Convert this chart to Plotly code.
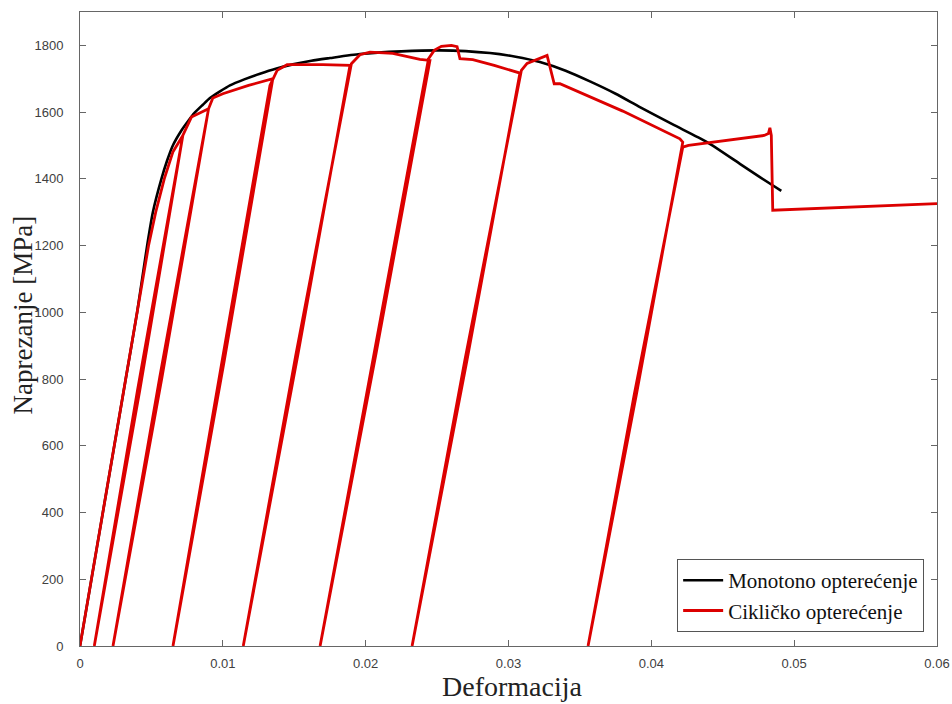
import plotly.graph_objects as go

# Monotonic loading curve (strain, stress in MPa)
mono_strain = [0, 0.0008, 0.0016, 0.0024, 0.0032, 0.0040, 0.0047, 0.0051, 0.0057, 0.0061, 0.0065,
               0.0071, 0.0076, 0.0080, 0.0086, 0.0091, 0.0098, 0.0105, 0.0115, 0.0126, 0.0137,
               0.0149, 0.0162, 0.0175, 0.0196, 0.0225,
               0.0252, 0.0287, 0.0305, 0.0322, 0.0340, 0.0357, 0.0375, 0.0392, 0.0415, 0.0439,
               0.0462, 0.0476, 0.0491]
mono_stress = [0, 200, 400, 600, 800, 1000, 1200, 1300, 1400, 1455, 1500,
               1545, 1575, 1597, 1622, 1642, 1662, 1680, 1698, 1715, 1730,
               1743, 1754, 1762, 1774, 1782,
               1785, 1777, 1766, 1750, 1724, 1692, 1655, 1615, 1563, 1510,
               1445, 1405, 1364]

# Cyclic loading curve (strain, stress in MPa)
cyc_strain = [0, 0.0008, 0.0016, 0.0024, 0.0032, 0.0040, 0.0048, 0.0053, 0.0059, 0.0065, 0.0072,
              0.00418, 0.00100, 0.00402, 0.0072, 0.0078, 0.0090,
              0.00574, 0.00231, 0.00558, 0.0090, 0.0093, 0.0100, 0.0118, 0.0135,
              0.01008, 0.00651, 0.00993, 0.0133, 0.0138, 0.0145, 0.0170, 0.0189,
              0.01524, 0.01143, 0.01510, 0.0190, 0.0196, 0.0203, 0.0219, 0.0238, 0.0245,
              0.02073, 0.01681, 0.02058, 0.0244, 0.0248, 0.0253, 0.0260, 0.0264, 0.0266, 0.0275, 0.0290, 0.0303, 0.0308,
              0.02710, 0.02325, 0.02695, 0.0309, 0.0313, 0.0322, 0.0327, 0.0332, 0.0336, 0.0380, 0.0420, 0.0422,
              0.03896, 0.03557, 0.03881, 0.0422, 0.0426, 0.0479, 0.0482, 0.0483, 0.0484, 0.0485, 0.0600]
cyc_stress = [0, 200, 400, 600, 800, 1000, 1200, 1300, 1400, 1480, 1530,
              765, 0, 765, 1530, 1585, 1610,
              805, 0, 805, 1610, 1642, 1655, 1680, 1700,
              850, 0, 850, 1680, 1725, 1742, 1742, 1740,
              870, 0, 870, 1745, 1772, 1780, 1776, 1758, 1755,
              877, 0, 877, 1760, 1785, 1797, 1800, 1796, 1760, 1757, 1740, 1722, 1717,
              858, 0, 858, 1725, 1746, 1760, 1770, 1685, 1685, 1603, 1520, 1510,
              755, 0, 755, 1495, 1500, 1530, 1536, 1553, 1530, 1306, 1326]

x_ticks = [0, 0.01, 0.02, 0.03, 0.04, 0.05, 0.06]
x_ticklabels = ["0", "0.01", "0.02", "0.03", "0.04", "0.05", "0.06"]
y_ticks = [0, 200, 400, 600, 800, 1000, 1200, 1400, 1600, 1800]

fig = go.Figure()
fig.add_trace(go.Scatter(x=mono_strain, y=mono_stress, mode="lines",
                         name="Monotono opterećenje",
                         line=dict(color="#000000", width=2.6, shape="spline", smoothing=0.6)))
fig.add_trace(go.Scatter(x=cyc_strain, y=cyc_stress, mode="lines",
                         name="Cikličko opterećenje",
                         line=dict(color="#dc0000", width=2.8)))

axis_common = dict(
    showgrid=False, zeroline=False, showline=True, linecolor="#666666", linewidth=1,
    mirror="ticks", ticks="inside", ticklen=6, tickcolor="#666666", automargin=False,
    tickfont=dict(family="Liberation Sans, Arial, sans-serif", size=13, color="#404040"),
)

fig.update_xaxes(range=[0, 0.06], tickvals=x_ticks, ticktext=x_ticklabels,
                 ticklabelstandoff=5, **axis_common)
fig.update_yaxes(range=[0, 1900], tickvals=y_ticks, ticklabelstandoff=13, **axis_common)

fig.update_layout(
    width=952, height=704,
    margin=dict(l=80, r=15, t=12, b=58, autoexpand=False),
    plot_bgcolor="white", paper_bgcolor="white",
    showlegend=True,
    legend=dict(x=0.985, y=0.022, xanchor="right", yanchor="bottom",
                bgcolor="white", bordercolor="#555555", borderwidth=1,
                font=dict(family="Liberation Serif, Times New Roman, serif", size=21, color="#111111"),
                tracegroupgap=0, itemwidth=40),
    annotations=[
        dict(text="Deformacija", xref="paper", yref="paper", x=0.504, y=-0.064,
             xanchor="center", yanchor="middle", showarrow=False,
             font=dict(family="Liberation Serif, Times New Roman, serif", size=28, color="#222222")),
        dict(text="Naprezanje [MPa]", xref="paper", yref="paper", x=-0.066, y=0.522,
             xanchor="center", yanchor="middle", showarrow=False, textangle=-90,
             font=dict(family="Liberation Serif, Times New Roman, serif", size=27, color="#222222")),
    ],
)

fig.write_html("out.html", config={"displayModeBar": False},
               post_script="document.body.style.margin='0';document.body.style.overflow='hidden';")
